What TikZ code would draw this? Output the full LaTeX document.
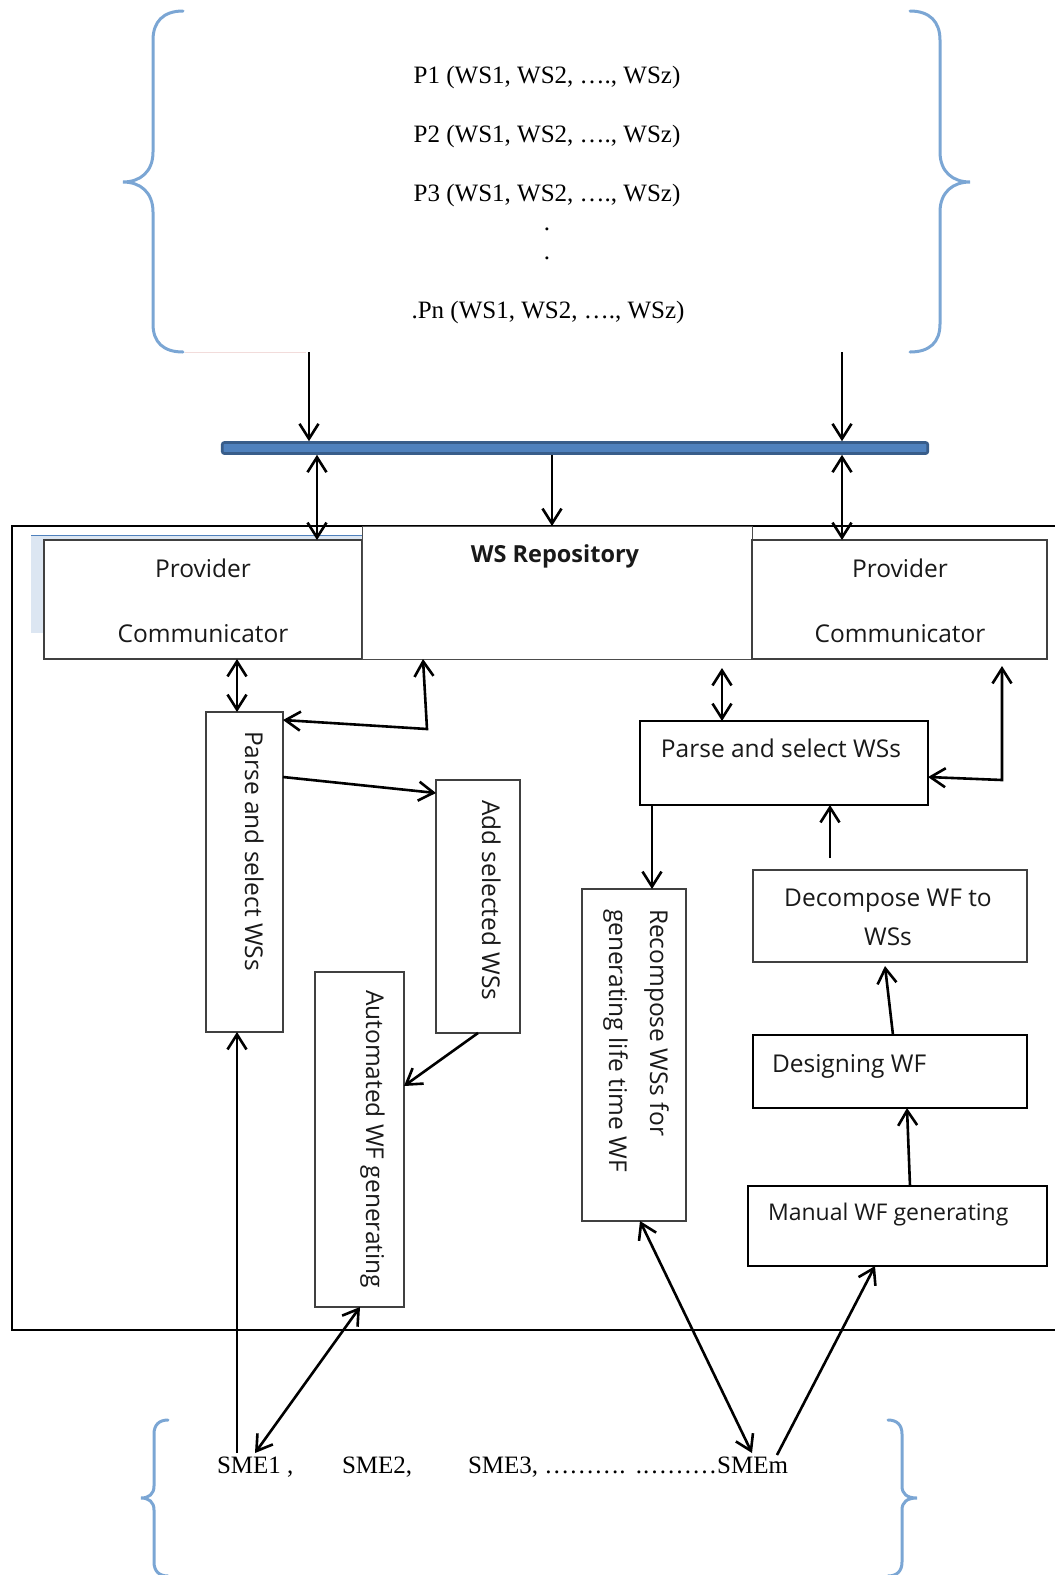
\documentclass[tikz,border=0pt]{standalone}
\usepackage{fontspec}
\setmainfont{Liberation Serif}
\newfontfamily\bxf{Open Sans}
\usetikzlibrary{arrows.meta}
\definecolor{bracec}{HTML}{7BA6D4}
\definecolor{busdark}{HTML}{385D8A}
\definecolor{busblue}{HTML}{4F81BD}
\definecolor{shadowc}{HTML}{DCE6F2}
\definecolor{pinkc}{HTML}{F2DCDB}
\begin{document}
\begin{tikzpicture}[x=1pt,y=-1pt,
  box/.style={draw=black!75, line width=1.3pt, inner sep=0pt, outer sep=0pt, fill=white},
  boxk/.style={box, draw=black, line width=1.9pt},
  arr/.style={line width=2.6pt, -{Straight Barb[length=15pt,width=19pt]}},
  biarr/.style={line width=2.6pt, {Straight Barb[length=15pt,width=19pt]}-{Straight Barb[length=15pt,width=19pt]}},
  bt/.style={font=\bxf\fontsize{24.5}{29}\selectfont, inner sep=0pt, outer sep=0pt, text=black!90},
  st/.style={font=\fontsize{25}{30}\selectfont, inner sep=0pt, outer sep=0pt},
  brc/.style={draw=bracec, line width=3pt, line cap=round}]

\useasboundingbox (0,0) rectangle (1055,1575);

% ---------- top braces ----------
\draw[brc] (183,11) .. controls (163,11) and (153,22) .. (153,40) -- (153,152)
  .. controls (153,172) and (140,182) .. (123,182)
  .. controls (140,182) and (153,192) .. (153,212) -- (153,324)
  .. controls (153,342) and (163,352) .. (183,352);
\draw[brc] (910,11) .. controls (930,11) and (940,22) .. (940,40) -- (940,152)
  .. controls (940,172) and (953,182) .. (970,182)
  .. controls (953,182) and (940,192) .. (940,212) -- (940,324)
  .. controls (940,342) and (930,352) .. (910,352);
\draw[pinkc, line width=1pt] (185,352) -- (306,352);

% ---------- provider list ----------
\node[st, anchor=base] (p1) at (547,83) {P1 (WS1, WS2, …., WSz)};
\node[st, anchor=base] (p2) at (547,142) {P2 (WS1, WS2, …., WSz)};
\node[st, anchor=base] (p3) at (547,201) {P3 (WS1, WS2, …., WSz)};
\node[st, anchor=base] (d1) at (547,230) {.};
\node[st, anchor=base] (d2) at (547,259) {.};
\node[st, anchor=base] (pn) at (548,318) {.Pn (WS1, WS2, …., WSz)};

% ---------- bus ----------
\node[draw=busdark, fill=busblue, line width=2.6pt, rounded corners=2pt,
  minimum width=705.5pt, minimum height=11pt, inner sep=0pt] (bus) at (575,448) {};

% ---------- outer container ----------
\draw[line width=1.8pt] (1056,526) -- (12,526) -- (12,1330) -- (1056,1330);

% ---------- top row ----------
\fill[shadowc] (31,535) rectangle (362,633);
\draw[busblue, line width=1pt] (31,535) -- (362,535);
\node[box, minimum width=318pt, minimum height=119pt] (provL) at (203,599.5) {};
\node[box, draw=black!70, line width=1pt, minimum width=390pt, minimum height=133pt] (repo) at (557,592.5) {};
\node[box, minimum width=295pt, minimum height=119pt] (provR) at (899.5,599.5) {};

\node[bt, anchor=base] (tpl1) at (203,577) {Provider};
\node[bt, anchor=base] (tpl2) at (203,642.5) {Communicator};
\node[bt, anchor=base, font=\bxf\bfseries\fontsize{23.5}{28}\selectfont] (trepo) at (555,562) {WS Repository};
\node[bt, anchor=base] (tpr1) at (900,577) {Provider};
\node[bt, anchor=base] (tpr2) at (900,642.5) {Communicator};

% ---------- left column ----------
\node[box, minimum width=77pt, minimum height=320pt] (parseL) at (244.5,872) {};
\node[bt, rotate=-90, anchor=base west] (tparseL) at (245,731) {Parse and select WSs};
\node[box, minimum width=84pt, minimum height=253pt] (add) at (478,906.5) {};
\node[bt, rotate=-90, anchor=base west] (tadd) at (482,800) {Add selected WSs};
\node[box, minimum width=89pt, minimum height=335pt] (auto) at (359.5,1139.5) {};
\node[bt, rotate=-90, anchor=base west] (tauto) at (366,990) {Automated WF generating};

% ---------- right column ----------
\node[boxk, line width=1.7pt, minimum width=288pt, minimum height=84pt] (parseR) at (784,763) {};
\node[bt, anchor=base] (tparseR) at (781,757) {Parse and select WSs};
\node[box, minimum width=104pt, minimum height=332pt] (recomp) at (634,1055) {};
\node[bt, rotate=-90, anchor=base west] (trec1) at (650,909) {Recompose WSs for};
\node[bt, rotate=-90, anchor=base west] (trec2) at (609,909) {generating life time WF};
\node[box, line width=1.5pt, minimum width=274pt, minimum height=92pt] (decomp) at (890,916) {};
\node[bt, anchor=base] (tdec1) at (888,906) {Decompose WF to};
\node[bt, anchor=base] (tdec2) at (888,945) {WSs};
\node[boxk, minimum width=274pt, minimum height=73pt] (design) at (890,1071.5) {};
\node[bt, anchor=base west] (tdesign) at (772,1072) {Designing WF};
\node[boxk, minimum width=299pt, minimum height=80pt] (manual) at (897.5,1226) {};
\node[bt, anchor=base west, font=\bxf\fontsize{23}{28}\selectfont] (tmanual) at (768,1220) {Manual WF generating};

% ---------- SME row ----------
\node[st, anchor=base west] (sme1) at (217,1473) {SME1 ,};
\node[st, anchor=base west] (sme2) at (342,1473) {SME2,};
\node[st, anchor=base west] (sme3) at (468,1473) {SME3, ……….};
\node[st, anchor=base east] (smem) at (788,1473) {.………SMEm};

% ---------- bottom braces ----------
\draw[brc] (168,1420) .. controls (159,1420) and (154,1425) .. (154,1434) -- (154,1486)
  .. controls (154,1494) and (149,1498) .. (141,1498)
  .. controls (149,1498) and (154,1502) .. (154,1510) -- (154,1562)
  .. controls (154,1571) and (159,1576) .. (168,1576);
\draw[brc] (888,1420) .. controls (897,1420) and (902,1425) .. (902,1434) -- (902,1486)
  .. controls (902,1494) and (907,1498) .. (917,1498)
  .. controls (907,1498) and (902,1502) .. (902,1510) -- (902,1562)
  .. controls (902,1571) and (897,1576) .. (888,1576);

% ---------- connectors ----------
\coordinate (braceL) at (309,352);
\coordinate (braceR) at (842,352);
\draw[arr] (braceL) -- (braceL |- bus.north);
\draw[arr] (braceR) -- (braceR |- bus.north);
\coordinate (cL) at (317,0);
\coordinate (cR) at (842,0);
\coordinate (cM) at (552,0);
\draw[biarr] (cL |- bus.south) -- (cL |- provL.north);
\draw[biarr] (cR |- bus.south) -- (cR |- provR.north);
\draw[arr] (cM |- bus.south) -- (cM |- repo.north);

\coordinate (c6) at (237,0);
\draw[biarr] (c6 |- provL.south) -- (c6 |- parseL.north);
\coordinate (c7) at (423,0);
\coordinate (k7) at (427,729);
\coordinate (c7b) at (0,720);
\draw[biarr] (c7 |- repo.south) -- (k7) -- (parseL.east |- c7b);
\coordinate (c8a) at (0,777);
\coordinate (c8b) at (0,793);
\draw[arr] (parseL.east |- c8a) -- (add.west |- c8b);
\coordinate (c9) at (0,1086);
\draw[arr] (add.south) -- (auto.east |- c9);

\coordinate (s1) at (237,1453);
\coordinate (s1b) at (255,1453);
\coordinate (c11) at (360,0);
\draw[arr] (s1) -- (s1 |- parseL.south);
\draw[biarr] (s1b) -- (c11 |- auto.south);

\coordinate (c12) at (722,668);
\draw[biarr] (c12) -- (c12 |- parseR.north);
\coordinate (c13) at (1002,666);
\coordinate (k13) at (1002,780);
\coordinate (c13b) at (0,777);
\draw[biarr] (c13) -- (k13) -- (parseR.east |- c13b);
\coordinate (c14) at (652,0);
\draw[arr] (c14 |- parseR.south) -- (c14 |- recomp.north);
\coordinate (c15) at (830,858);
\draw[arr] (c15) -- (c15 |- parseR.south);
\coordinate (c16a) at (893,0);
\coordinate (c16b) at (885,966);
\draw[arr] (c16a |- design.north) -- (c16b);
\coordinate (c17a) at (910,0);
\coordinate (c17b) at (907,0);
\draw[arr] (c17a |- manual.north) -- (c17b |- design.south);
\coordinate (sm1) at (777,1455);
\coordinate (c18) at (875,0);
\draw[arr] (sm1) -- (c18 |- manual.south);
\coordinate (sm2) at (752,1453);
\coordinate (c19) at (640,0);
\draw[biarr] (c19 |- recomp.south) -- (sm2);
\end{tikzpicture}
\end{document}
